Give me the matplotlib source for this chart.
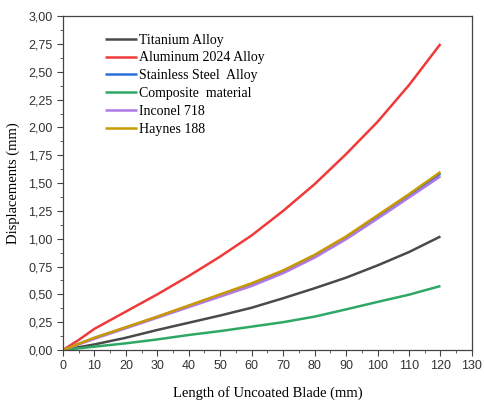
import numpy as np
import matplotlib
matplotlib.use('Agg')
import matplotlib.pyplot as plt
from matplotlib.ticker import FuncFormatter, MultipleLocator

length = [0, 5, 10, 20, 30, 40, 50, 60, 70, 80, 90, 100, 110, 120]

titanium = [0, 0.025, 0.05, 0.11, 0.18, 0.245, 0.31, 0.38, 0.465, 0.555, 0.65, 0.76, 0.88, 1.02]
aluminum = [0, 0.09, 0.19, 0.345, 0.50, 0.665, 0.84, 1.03, 1.25, 1.49, 1.76, 2.05, 2.38, 2.75]
stainless = [0, 0.054, 0.108, 0.202, 0.297, 0.395, 0.494, 0.592, 0.705, 0.845, 1.01, 1.197, 1.387, 1.585]
composite = [0, 0.015, 0.03, 0.06, 0.095, 0.135, 0.17, 0.21, 0.25, 0.30, 0.365, 0.432, 0.497, 0.575]
inconel = [0, 0.05, 0.10, 0.195, 0.29, 0.385, 0.48, 0.575, 0.69, 0.83, 0.995, 1.18, 1.37, 1.56]
haynes = [0, 0.055, 0.11, 0.205, 0.30, 0.40, 0.50, 0.60, 0.715, 0.855, 1.02, 1.21, 1.40, 1.60]

series = [
    ('Titanium Alloy', titanium, '#4a4a4a'),
    ('Aluminum 2024 Alloy', aluminum, '#f03a3a'),
    ('Stainless Steel  Alloy', stainless, '#2a6fdb'),
    ('Composite  material', composite, '#2fa866'),
    ('Inconel 718', inconel, '#b07be6'),
    ('Haynes 188', haynes, '#c99a00'),
]

fig = plt.figure(figsize=(4.84, 4.03), dpi=100)
ax = fig.add_axes([0.130, 0.1315, 0.845, 0.8285])

for name, vals, col in series:
    ax.plot(length, vals, color=col, lw=1.8, label=name, solid_capstyle='butt')

ax.set_xlim(0, 130)
ax.set_ylim(0, 3)
ax.xaxis.set_major_locator(MultipleLocator(10))
ax.xaxis.set_minor_locator(MultipleLocator(5))
ax.yaxis.set_major_locator(MultipleLocator(0.25))
ax.yaxis.set_minor_locator(MultipleLocator(0.125))
ax.yaxis.set_major_formatter(FuncFormatter(lambda v, p: ('%.2f' % v).replace('.', ',')))

for s in ax.spines.values():
    s.set_color('#444444')
    s.set_linewidth(0.9)
ax.tick_params(which='both', direction='out', colors='#444444', top=False, right=False)
ax.tick_params(which='major', length=4, labelsize=9, labelcolor='#333333')
ax.tick_params(which='minor', length=2.5)
for lab in ax.get_xticklabels() + ax.get_yticklabels():
    lab.set_family('Liberation Sans')

ax.set_xlabel('Length of Uncoated Blade (mm)', family='Liberation Serif', fontsize=10.5, labelpad=10)
ax.set_ylabel('Displacements (mm)', family='Liberation Serif', fontsize=10.5, labelpad=6)

leg = ax.legend(loc='upper left', bbox_to_anchor=(0.072, 0.985), frameon=False,
                prop={'family': 'Liberation Serif', 'size': 10},
                handlelength=2.3, handletextpad=0.15, labelspacing=0.35)

fig.savefig('out.png', dpi=100)
